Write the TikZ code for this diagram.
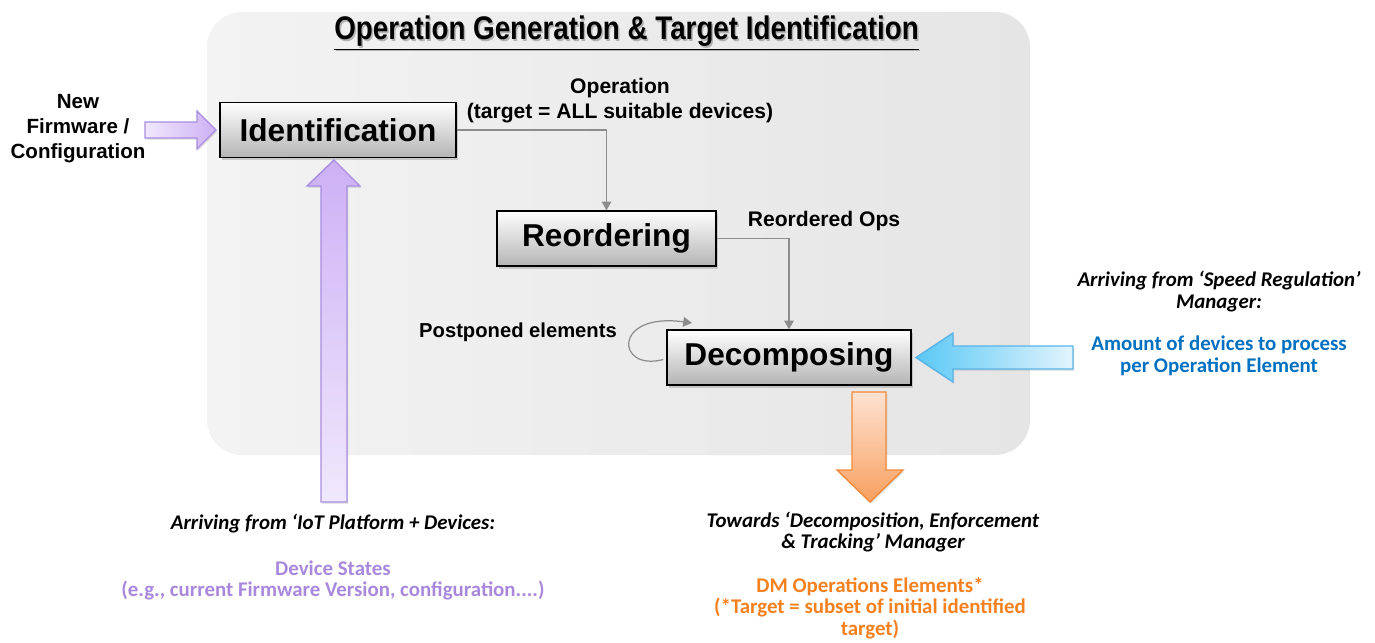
\documentclass[tikz,border=0pt]{standalone}
\usepackage{fontspec}
\setmainfont{Liberation Sans}
\newfontfamily\carl{Carlito}
\newfontfamily\titlefont[FakeStretch=0.85]{Liberation Sans}
\usetikzlibrary{arrows.meta,shadows,calc}

\definecolor{panelA}{RGB}{243,243,243}
\definecolor{panelB}{RGB}{229,229,229}
\definecolor{boxbot}{RGB}{180,180,180}
\definecolor{connc}{RGB}{140,140,140}
\definecolor{lilacD}{RGB}{205,176,245}
\definecolor{lilacL}{RGB}{240,232,252}
\definecolor{lilacE}{RGB}{168,141,224}
\definecolor{skyD}{RGB}{90,200,245}
\definecolor{skyL}{RGB}{226,244,253}
\definecolor{skyE}{RGB}{90,180,232}
\definecolor{peachL}{RGB}{253,226,210}
\definecolor{peachD}{RGB}{248,160,96}
\definecolor{peachE}{RGB}{240,138,58}
\definecolor{bluetxt}{RGB}{0,112,192}
\definecolor{lilactxt}{RGB}{168,136,220}
\definecolor{orangetxt}{RGB}{245,128,30}

\tikzset{
  stepbox/.style={draw=black, line width=0.8pt, top color=white, bottom color=boxbot,
    font=\bfseries\fontsize{18}{20}\selectfont, minimum height=1.1cm, inner sep=0pt,
    drop shadow={shadow xshift=1.2pt, shadow yshift=-1.5pt, opacity=0.35}},
  conn/.style={draw=connc, line width=0.7pt, -{Triangle[width=5.5pt,length=5pt]}},
  lbl/.style={font=\bfseries\fontsize{12}{14.2}\selectfont, align=center, inner sep=0pt},
  note/.style={font=\carl\bfseries\itshape\fontsize{11.9}{12.3}\selectfont, align=center, inner sep=0pt},
  info/.style={font=\carl\bfseries\fontsize{11.9}{12.3}\selectfont, align=center, inner sep=0pt},
  blockarrow/.style={line width=0.8pt, line join=miter,
    drop shadow={shadow xshift=0.8pt, shadow yshift=-1pt, opacity=0.2}}
}

\begin{document}
\begin{tikzpicture}[x=0.02cm, y=-0.02cm]
\useasboundingbox (0,0) rectangle (1375,642);

% panel
\shade[left color=panelA, right color=panelB, rounded corners=0.7cm]
  (207,12) rectangle (1030,455);

% title with a soft shadow
\node[font=\titlefont\bfseries\fontsize{18.6}{20}\selectfont, text=black!45, opacity=0.6, inner sep=0pt]
  at (628,34.5) {\underline{Operation Generation \& Target Identification}};
\node[font=\titlefont\bfseries\fontsize{18.6}{20}\selectfont, inner sep=0pt] (title)
  at (626.5,33) {\underline{Operation Generation \& Target Identification}};

% process steps
\node[stepbox, minimum width=4.72cm] (ident) at (338,130) {Identification};
\node[stepbox, minimum width=4.38cm] (reord) at (606.5,238.5) {Reordering};
\node[stepbox, minimum width=4.88cm] (decomp) at (789,357.5) {Decomposing};

% connectors between the steps
\draw[conn] (ident.east) -| (reord.north);
\draw[conn] (reord.east) -| (decomp.north);
\draw[conn] ($(decomp.west)+(-3,2)$) .. controls (616,372) and (612,312) .. (692,323);

% connector labels
\node[lbl] (oplbl) at (620,100.5) {Operation\\(target = ALL suitable devices)};
\node[lbl] (reolbl) at (824,221) {Reordered Ops};
\node[lbl, font=\bfseries\fontsize{11.5}{13}\selectfont] (pplbl) at (518,332) {Postponed elements};

% input: new firmware / configuration
\node[lbl, font=\bfseries\fontsize{11.7}{14.2}\selectfont] (fw) at (78,129) {New\\Firmware /\\Configuration};
\shade[blockarrow, draw=lilacE, left color=lilacL, right color=lilacD]
  (145,122) -- (197,122) -- (197,111) -- (216,130) -- (197,149) -- (197,138) -- (145,138) -- cycle;

% input: device states
\shade[blockarrow, draw=lilacE, top color=lilacD, bottom color=lilacL]
  (321,502) -- (321,186) -- (307,186) -- (334,160) -- (360,186) -- (347,186) -- (347,502) -- cycle;
\node[note] (iot) at (333,524) {Arriving from ‘IoT Platform + Devices:};
\node[info, text=lilactxt] (dev) at (333,580.5) {Device States\\(e.g., current Firmware Version, configuration....)};

% input: speed regulation
\shade[blockarrow, draw=skyE, left color=skyD, right color=skyL]
  (1073,346) -- (953,346) -- (953,333) -- (916,357.5) -- (953,382) -- (953,369) -- (1073,369) -- cycle;
\node[note] (speed) at (1219,291.5) {Arriving from ‘Speed Regulation’\\Manager:};
\node[info, text=bluetxt] (amount) at (1219,356) {Amount of devices to process\\per Operation Element};

% output: towards decomposition manager
\shade[blockarrow, draw=peachE, top color=peachL, bottom color=peachD]
  (852,392) -- (886,392) -- (886,470) -- (903,470) -- (870,502) -- (837,470) -- (852,470) -- cycle;
\node[note] (towards) at (873,532) {Towards ‘Decomposition, Enforcement\\\& Tracking’ Manager};
\node[info, text=orangetxt] (dmops) at (870,608) {DM Operations Elements*\\(*Target = subset of initial identified\\target)};
\end{tikzpicture}
\end{document}
